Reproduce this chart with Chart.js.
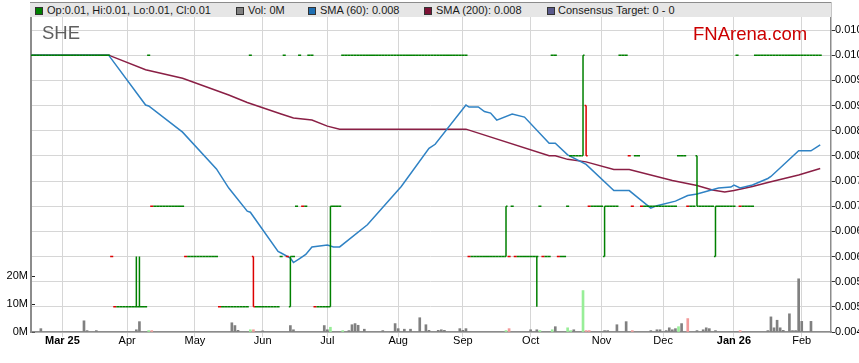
<!DOCTYPE html>
<html>
<head>
<meta charset="utf-8">
<script src="https://cdn.jsdelivr.net/npm/chart.js@4.4.1/dist/chart.umd.min.js"></script>
<style>
  body { margin: 0; background: #fff; overflow: hidden; }
  #wrap { position: relative; width: 859px; height: 363px; font-family: 'Liberation Sans', Arial, sans-serif; }
  #band { position: absolute; left: 30px; top: 2px; width: 801px; height: 14px; background: #e6e6e6; border-top: 1px solid #8c8c8c; }
  .item { position: absolute; top: 3px; height: 14px; line-height: 14px; font-size: 11px; color: #1a1a1a; white-space: nowrap; }
  .sw { position: absolute; top: 7px; width: 6px; height: 6px; border: 1px solid #333; }
  .big { position: absolute; font-size: 18.5px; line-height: 19px; white-space: nowrap; }
</style>
</head>
<body>
<div id="wrap">
  <canvas id="c" width="859" height="363"></canvas>
  <div id="band"></div>
  <div class="sw" style="left:35px;background:#008000"></div>
  <div class="item" style="left:47px">Op:0.01, Hi:0.01, Lo:0.01, Cl:0.01</div>
  <div class="sw" style="left:236px;background:#808080"></div>
  <div class="item" style="left:248px">Vol: 0M</div>
  <div class="sw" style="left:308px;background:#1f6fb2"></div>
  <div class="item" style="left:320px">SMA (60): 0.008</div>
  <div class="sw" style="left:424px;background:#7d1236"></div>
  <div class="item" style="left:436px">SMA (200): 0.008</div>
  <div class="sw" style="left:547px;background:#5a5a8c"></div>
  <div class="item" style="left:558px">Consensus Target: 0 - 0</div>
  <div class="big" style="left:42px;top:23px;color:#5f5f5f">SHE</div>
  <div class="big" style="left:693px;top:24px;color:#cc0000">FNArena.com</div>
</div>
<script>
// x axis = weekday index, day 0 = Mon 3 Mar 2025.
const monthTicks = [0, 21, 43, 65, 86, 109, 130, 152, 175, 195, 218, 240];
const monthLabels = ['Mar 25', 'Apr', 'May', 'Jun', 'Jul', 'Aug', 'Sep', 'Oct', 'Nov', 'Dec', 'Jan 26', 'Feb'];
const priceTicks = [0.0045, 0.005, 0.0055, 0.006, 0.0065, 0.007, 0.0075, 0.008, 0.0085, 0.009, 0.0095, 0.01, 0.0105];
const volTicks = [0, 10e6, 20e6];

// daily price: runs of flat days [first, last, close]
const closeRuns = [
  [-10, 15, 0.010], [16, 16, 0.006], [17, 27, 0.005], [28, 28, 0.010], [29, 39, 0.007],
  [40, 50, 0.006], [51, 60, 0.005], [61, 61, 0.010], [63, 70, 0.005], [71, 71, 0.006],
  [72, 72, 0.010], [73, 73, 0.006], [75, 75, 0.006], [76, 76, 0.007], [77, 77, 0.010],
  [78, 79, 0.007], [80, 81, 0.010], [82, 86, 0.005], [88, 90, 0.007], [91, 131, 0.010],
  [132, 143, 0.006], [145, 145, 0.006], [146, 146, 0.007], [147, 153, 0.006], [155, 155, 0.007],
  [156, 158, 0.006], [159, 160, 0.010], [161, 163, 0.006], [164, 164, 0.007], [165, 168, 0.008],
  [171, 180, 0.007], [181, 183, 0.010], [184, 184, 0.008], [185, 185, 0.007], [186, 187, 0.008],
  [188, 199, 0.007], [200, 202, 0.008], [203, 205, 0.007], [207, 211, 0.007], [213, 218, 0.007],
  [219, 219, 0.010], [220, 224, 0.007], [225, 246, 0.010],
];
// days with a range: [day, open, high, low, close]
const rangeDays = [
  [24, 0.005, 0.006, 0.005, 0.005], [25, 0.005, 0.006, 0.005, 0.005],
  [62, 0.006, 0.006, 0.005, 0.005], [74, 0.005, 0.006, 0.005, 0.006],
  [87, 0.005, 0.007, 0.005, 0.007], [144, 0.006, 0.007, 0.006, 0.007],
  [154, 0.006, 0.006, 0.005, 0.006], [169, 0.008, 0.010, 0.008, 0.010],
  [170, 0.009, 0.009, 0.008, 0.008], [176, 0.006, 0.007, 0.006, 0.007],
  [206, 0.008, 0.008, 0.007, 0.007], [212, 0.006, 0.007, 0.006, 0.007],
];

const volDays = [-7, 7, 8, 11, 24, 25, 28, 29, 55, 56, 57, 61, 62, 65, 74, 75, 85, 86, 87, 91,
  93, 94, 95, 96, 98, 104, 108, 109, 111, 113, 116, 118, 119, 122, 123, 124, 129, 130, 131, 144,
  145, 152, 154, 155, 159, 160, 164, 165, 166, 169, 170, 171, 176, 177, 180, 183, 185, 191, 193, 194,
  196, 197, 198, 199, 200, 201, 203, 206, 208, 209, 210, 212, 220, 229, 230, 231, 232, 233, 234, 236,
  237, 238, 239, 240, 243];
const volMillions = [1.2, 4.0, 0.5, 0.5, 0.8, 3.7, 0.5, 0.5, 3.3, 2.3, 0.6, 0.8, 0.8, 0.4, 2.3, 0.8, 2.3, 0.8, 1.7, 0.5,
  0.5, 2.6, 3.0, 2.4, 1.0, 0.5, 3.0, 1.2, 1.0, 1.0, 5.1, 2.6, 0.6, 0.6, 0.8, 0.6, 1.2, 0.6, 1.2, 0.5,
  1.2, 0.8, 0.8, 0.5, 0.8, 1.9, 1.5, 0.5, 0.8, 14.8, 0.5, 0.5, 0.5, 0.5, 2.6, 3.7, 0.5, 0.5, 0.8, 0.8,
  0.5, 1.5, 0.8, 1.2, 1.9, 3.0, 4.8, 0.5, 0.8, 1.5, 1.2, 0.5, 0.5, 0.5, 5.4, 1.5, 4.2, 1.5, 0.6, 6.5,
  0.5, 0.5, 19.0, 3.8, 3.8];

const sma60Days = [-10, 15, 27, 28, 39, 50, 54, 60, 61, 70, 71, 74, 75, 77, 79, 81, 86, 88, 90, 99,
  110, 119, 121, 131, 132, 135, 137, 139, 141, 146, 150, 158, 160, 164, 170, 179, 184, 187, 191, 193,
  199, 203, 206, 213, 217, 218, 220, 224, 229, 230, 239, 243, 246];
const sma60Vals = [0.0100, 0.0100, 0.00901, 0.00899, 0.00847, 0.00774, 0.00736, 0.00690, 0.00688, 0.00610,
  0.00607, 0.00597, 0.00588, 0.00596, 0.00604, 0.00619, 0.00623, 0.00619, 0.00619, 0.00663,
  0.00739, 0.00815, 0.00823, 0.00901, 0.00897, 0.00897, 0.00888, 0.00885, 0.00871, 0.00883,
  0.00877, 0.00825, 0.00825, 0.00802, 0.00783, 0.00731, 0.00731, 0.00716, 0.00696, 0.00701,
  0.00710, 0.00721, 0.00724, 0.00736, 0.00738, 0.00742, 0.00736, 0.00742, 0.00755, 0.00759,
  0.00810, 0.00810, 0.00822];
const sma200Days = [-10, 15, 27, 39, 54, 60, 71, 75, 81, 86, 90, 131, 158, 160, 164, 170, 179, 184,
  198, 206, 211, 215, 218, 224, 229, 239, 246];
const sma200Vals = [0.0100, 0.0100, 0.00971, 0.00954, 0.00921, 0.00906, 0.00883, 0.00875, 0.00871, 0.00859,
  0.00853, 0.00853, 0.00800, 0.00800, 0.00793, 0.00788, 0.00773, 0.00773, 0.00751, 0.00741,
  0.00732, 0.00728, 0.00731, 0.00739, 0.00747, 0.00762, 0.00775];

const C = {
  up: '#008000', down: '#dd0000', blue: '#2f82c4', maroon: '#8a1f45',
  grid: '#d6d6d6', axis: '#8c8c8c', volFlat: '#808080', volUp: '#98ee98', volDown: '#f39a9a',
};
const FONT = "'Liberation Sans', Arial, sans-serif";
Chart.defaults.font.family = FONT;
Chart.defaults.font.size = 11;
Chart.defaults.color = '#000';

// expand runs into one OHLC per day
const bars = new Map();
closeRuns.forEach(([a, b, c]) => { for (let d = a; d <= b; d++) bars.set(d, { d, o: c, h: c, l: c, c }); });
rangeDays.forEach(([d, o, h, l, c]) => bars.set(d, { d, o, h, l, c }));
const days = [...bars.values()].sort((p, q) => p.d - q.d);
days.forEach((b, i) => { b.chg = i ? Math.sign(Math.round((b.c - days[i - 1].c) * 1e5)) : 0; });

const volColor = (d) => {
  const b = bars.get(d);
  if (!b || b.chg === 0) return C.volFlat;
  return b.chg > 0 ? C.volUp : C.volDown;
};

// OHLC marks: open tick left, close tick right, high-low line in the middle
const ohlcPlugin = {
  id: 'ohlc',
  afterDatasetsDraw(chart) {
    const { ctx, chartArea: a, scales: { x, y } } = chart;
    ctx.save();
    ctx.beginPath();
    ctx.rect(a.left, a.top, a.width, a.height);
    ctx.clip();
    ctx.lineWidth = 1.5;
    days.forEach((b) => {
      const xl = x.getPixelForValue(b.d - 0.5), xm = x.getPixelForValue(b.d), xr = x.getPixelForValue(b.d + 0.5);
      ctx.strokeStyle = b.chg < 0 ? C.down : C.up;
      ctx.beginPath();
      ctx.moveTo(xl, y.getPixelForValue(b.o)); ctx.lineTo(xm, y.getPixelForValue(b.o));
      ctx.moveTo(xm, y.getPixelForValue(b.c)); ctx.lineTo(xr, y.getPixelForValue(b.c));
      if (b.h > b.l) { ctx.moveTo(xm, y.getPixelForValue(b.h)); ctx.lineTo(xm, y.getPixelForValue(b.l)); }
      ctx.stroke();
    });
    ctx.restore();
  },
};

const setTicks = (vals) => (s) => { s.ticks = vals.map((v) => ({ value: v })); };
const fixSize = (key, n) => (s) => { s[key] = n; s.paddingTop = 0; s.paddingBottom = 0; s.paddingLeft = 0; s.paddingRight = 0; };

new Chart(document.getElementById('c'), {
  data: {
    datasets: [
      { type: 'line', label: 'SMA (60)', data: sma60Days.map((d, i) => ({ x: d, y: sma60Vals[i] })),
        borderColor: C.blue, borderWidth: 1.5, pointRadius: 0, yAxisID: 'y', order: 1 },
      { type: 'line', label: 'SMA (200)', data: sma200Days.map((d, i) => ({ x: d, y: sma200Vals[i] })),
        borderColor: C.maroon, borderWidth: 1.5, pointRadius: 0, yAxisID: 'y', order: 2 },
      { type: 'bar', label: 'Vol', data: volDays.map((d, i) => ({ x: d, y: volMillions[i] * 1e6 })),
        backgroundColor: volDays.map(volColor), barThickness: 2, yAxisID: 'yv', order: 3 },
    ],
  },
  options: {
    responsive: false,
    animation: false,
    devicePixelRatio: 1,
    layout: { padding: { top: 3, left: 0, right: 0, bottom: 0 } },
    plugins: { legend: { display: false }, tooltip: { enabled: false } },
    scales: {
      x: {
        type: 'linear', min: -10.2, max: 249.5, offset: false,
        afterBuildTicks: setTicks(monthTicks),
        afterFit: fixSize('height', 31),
        grid: { color: C.grid, tickLength: 5, offset: false },
        border: { color: C.axis, width: 1.5 },
        ticks: {
          autoSkip: false, maxRotation: 0, padding: -3,
          font: (ctx) => ({ family: FONT, size: 11, weight: / /.test(monthLabels[ctx.index] || '') ? 'bold' : 'normal' }),
          callback: (v, i) => monthLabels[i],
        },
      },
      y: {
        position: 'right', min: 0.0045, max: 0.0110365,
        afterBuildTicks: setTicks(priceTicks),
        afterFit: fixSize('width', 28),
        grid: { color: C.grid, tickColor: '#333', tickLength: 4 },
        border: { color: C.axis, width: 1.5 },
        ticks: { padding: 0, callback: (v) => v.toFixed(4) },
      },
      yv: {
        position: 'left', min: 0, max: 117.5e6,
        afterBuildTicks: setTicks(volTicks),
        afterFit: fixSize('width', 31),
        grid: { drawOnChartArea: false, tickColor: '#222', tickLength: -4 },
        border: { color: C.axis, width: 2 },
        ticks: { padding: 7, callback: (v) => v / 1e6 + 'M' },
      },
    },
  },
  plugins: [ohlcPlugin],
});
</script>
</body>
</html>
